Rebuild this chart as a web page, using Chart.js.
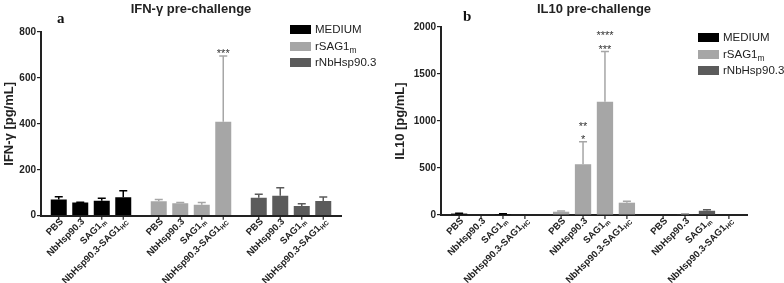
<!DOCTYPE html>
<html>
<head>
<meta charset="utf-8">
<script src="https://cdn.jsdelivr.net/npm/chart.js@4.4.1/dist/chart.umd.min.js"></script>
<style>
  html, body { margin: 0; padding: 0; background: #fff; }
  #wrap { position: relative; width: 784px; height: 283px; font-family: 'Liberation Sans', Arial, sans-serif; }
  #wrap canvas { position: absolute; top: 0; }
  .legend { position: absolute; font-size: 11.5px; color: #222; }
  .legend div { height: 16.5px; line-height: 16.5px; white-space: nowrap; }
  .legend .box { display: inline-block; width: 21px; height: 9px; margin-right: 4px; vertical-align: -1px; }
  .legend sub { font-size: 8.5px; line-height: 0; vertical-align: -3px; }
  .tag { position: absolute; font-family: 'Liberation Serif', 'Times New Roman', serif; font-weight: bold; font-size: 15px; line-height: 15px; color: #111; }
</style>
</head>
<body>
<div id="wrap">
  <canvas id="chartA" width="392" height="283" style="left:0"></canvas>
  <canvas id="chartB" width="392" height="283" style="left:392px"></canvas>
  <div class="tag" style="left:57px;top:11px">a</div>
  <div class="tag" style="left:463px;top:9px">b</div>
  <div class="legend" id="legendA" style="left:290px;top:21px"></div>
  <div class="legend" id="legendB" style="left:698px;top:29px"></div>
</div>
<script>
// groups on the x axis (also the legend), [text, subscript]
const groups = [['MEDIUM', ''], ['rSAG1', 'm'], ['rNbHsp90.3', '']];
const groupColors = ['#000000', '#a6a6a6', '#5b5b5b'];
// bars inside each group
const treatments = [['PBS', ''], ['NbHsp90.3', ''], ['SAG1', 'm'], ['NbHsp90.3-SAG1', 'HC']];

// IFN-gamma, one row per treatment, one value per group
const ifnMeans = [
  [71, 63, 78],
  [57, 54, 87],
  [65, 48, 42],
  [80, 409, 64]
];
const ifnSD = [
  [12, 8, 15],
  [2, 3, 35],
  [11, 10, 10],
  [29, 286, 17]
];
const ifnStars = [
  [[], [], []],
  [[], [], []],
  [[], [], []],
  [[], ['***'], []]
];
const ifnTicks = [0, 200, 400, 600, 800];

// IL10
const il10Means = [
  [15, 35, 0],
  [0, 540, 5],
  [10, 1205, 45],
  [0, 131, 0]
];
const il10SD = [
  [3, 8, 0],
  [0, 240, 2],
  [3, 535, 12],
  [0, 15, 0]
];
const il10Stars = [
  [[], [], []],
  [[], ['**', '*'], []],
  [[], ['****', '***'], []],
  [[], [], []]
];
const il10Ticks = [0, 500, 1000, 1500, 2000];

const FONT = "'Liberation Sans', Arial, sans-serif";

function buildLegend(el) {
  el.innerHTML = groups.map((g, i) =>
    '<div><span class="box" style="background:' + groupColors[i] + '"></span>' +
    g[0] + (g[1] ? '<sub>' + g[1] + '</sub>' : '') + '</div>').join('');
}
buildLegend(document.getElementById('legendA'));
buildLegend(document.getElementById('legendB'));

// text with a subscript, right aligned at x
function drawLabel(ctx, parts, x, y) {
  ctx.font = 'bold 9.5px ' + FONT;
  const mainW = ctx.measureText(parts[0]).width;
  ctx.font = 'bold 6.5px ' + FONT;
  const subW = parts[1] ? ctx.measureText(parts[1]).width + 0.5 : 0;
  ctx.textAlign = 'left';
  ctx.textBaseline = 'middle';
  ctx.font = 'bold 9.5px ' + FONT;
  ctx.fillText(parts[0], x - mainW - subW, y);
  if (parts[1]) {
    ctx.font = 'bold 6.5px ' + FONT;
    ctx.fillText(parts[1], x - subW + 0.5, y + 2.5);
  }
}

// error bars, significance stars, bar labels under the axis
const barExtras = {
  id: 'barExtras',
  afterDraw(chart, args, opts) {
    const ctx = chart.ctx;
    const yScale = chart.scales.y;
    const bottom = chart.chartArea.bottom;
    chart.data.datasets.forEach((ds, i) => {
      const meta = chart.getDatasetMeta(i);
      meta.data.forEach((bar, j) => {
        const col = groupColors[j];
        const sd = opts.sd[i][j];
        let top = bar.y;
        ctx.save();
        if (sd > 0) {
          top = yScale.getPixelForValue(ds.data[j] + sd);
          ctx.strokeStyle = col;
          ctx.lineWidth = 1.5;
          ctx.beginPath();
          ctx.moveTo(bar.x, bar.y);
          ctx.lineTo(bar.x, top);
          ctx.moveTo(bar.x - 4, top);
          ctx.lineTo(bar.x + 4, top);
          ctx.stroke();
        }
        const lines = opts.stars[i][j];
        ctx.fillStyle = '#333';
        ctx.font = '11px ' + FONT;
        ctx.textAlign = 'center';
        ctx.textBaseline = 'alphabetic';
        for (let k = 0; k < lines.length; k++) {
          const line = lines[lines.length - 1 - k];
          ctx.fillText(line, bar.x, top + opts.starShift - k * 13.5);
        }
        // tick mark and rotated label
        ctx.strokeStyle = '#222';
        ctx.lineWidth = 1.2;
        ctx.beginPath();
        ctx.moveTo(bar.x, bottom);
        ctx.lineTo(bar.x, bottom + 4);
        ctx.stroke();
        ctx.translate(bar.x + 3, bottom + 4.5);
        ctx.rotate(-Math.PI / 4);
        ctx.fillStyle = '#222';
        drawLabel(ctx, treatments[i], 0, 0);
        ctx.restore();
      });
    });
  }
};

function makeChart(id, cfg) {
  const ctx = document.getElementById(id).getContext('2d');
  return new Chart(ctx, {
    type: 'bar',
    data: {
      labels: groups.map(g => g[0] + g[1]),
      datasets: treatments.map((t, i) => ({
        label: t[0] + t[1],
        data: cfg.means[i],
        backgroundColor: groupColors,
        borderWidth: 0,
        categoryPercentage: 0.86,
        barPercentage: 0.744
      }))
    },
    plugins: [barExtras],
    options: {
      responsive: false,
      animation: false,
      layout: { padding: { left: 0, right: cfg.padRight, top: 0, bottom: 0 } },
      scales: {
        x: {
          grid: { display: false },
          border: { display: true, color: '#222', width: 2 },
          ticks: { display: false },
          afterFit: s => { s.height = cfg.xHeight; }
        },
        y: {
          min: cfg.ticks[0],
          max: cfg.ticks[cfg.ticks.length - 1],
          grid: { drawOnChartArea: false, drawTicks: true, tickLength: 4, color: '#222', lineWidth: 1.2 },
          border: { display: true, color: '#222', width: 2 },
          ticks: {
            stepSize: cfg.ticks[1] - cfg.ticks[0],
            padding: 1,
            color: '#222',
            font: { family: FONT, size: 10, weight: 'bold' },
            callback: v => String(v)
          },
          title: {
            display: true,
            text: cfg.yTitle,
            color: '#222',
            padding: { top: cfg.titlePad, bottom: 0 },
            font: { family: FONT, size: 13, weight: 'bold' }
          },
          afterFit: s => { s.width = cfg.yWidth; }
        }
      },
      plugins: {
        legend: { display: false },
        tooltip: { enabled: false },
        title: {
          display: true,
          text: cfg.title,
          fullSize: false,
          color: '#222',
          padding: { top: 2, bottom: cfg.topGap },
          font: { family: FONT, size: 13, weight: 'bold' }
        },
        barExtras: { sd: cfg.sd, stars: cfg.stars, starShift: cfg.starShift }
      }
    }
  });
}

makeChart('chartA', {
  title: 'IFN-\u03b3 pre-challenge',
  yTitle: 'IFN-\u03b3 [pg/mL]',
  means: ifnMeans, sd: ifnSD, stars: ifnStars, ticks: ifnTicks,
  padRight: 51, yWidth: 41, xHeight: 67.3, topGap: 14.4, titlePad: 2, starShift: 0.5
});
makeChart('chartB', {
  title: 'IL10 pre-challenge',
  yTitle: 'IL10 [pg/mL]',
  means: il10Means, sd: il10SD, stars: il10Stars, ticks: il10Ticks,
  padRight: 37, yWidth: 49, xHeight: 68, topGap: 9.4, titlePad: 1, starShift: 1.5
});
</script>
</body>
</html>
